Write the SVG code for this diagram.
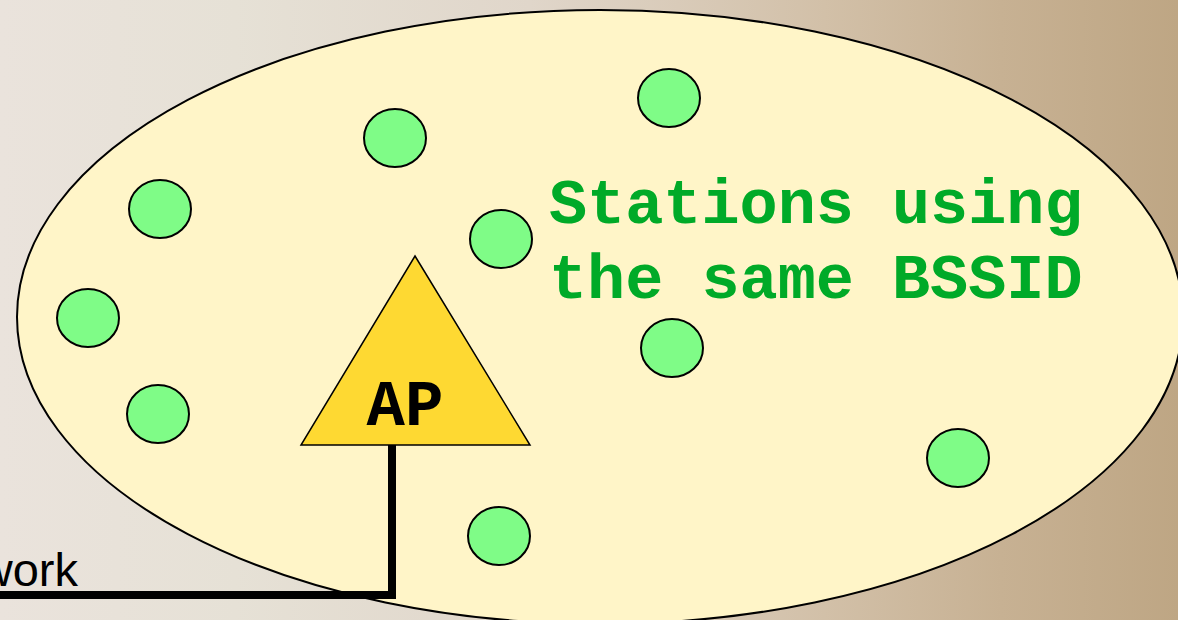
<svg xmlns="http://www.w3.org/2000/svg" width="1178" height="620" viewBox="0 0 1178 620">
  <defs>
    <linearGradient id="bg" x1="0" y1="0" x2="1" y2="0">
      <stop offset="0" stop-color="#EAE3DC"/>
      <stop offset="0.2" stop-color="#E6E1D6"/>
      <stop offset="0.45" stop-color="#E0D6CA"/>
      <stop offset="0.7" stop-color="#D2C0A8"/>
      <stop offset="0.85" stop-color="#C7B193"/>
      <stop offset="1" stop-color="#BEA684"/>
    </linearGradient>
  </defs>
  <style>
    .station { fill: #7FFC87; stroke: #000; stroke-width: 2; }
    .bss { fill: #FFF5C8; stroke: #000; stroke-width: 2; }
    .ap { fill: #FED932; stroke: #000; stroke-width: 1.5; stroke-linejoin: miter; }
    .aplabel { font-family: "Liberation Mono", "Courier New", monospace; font-weight: bold; font-size: 64px; fill: #000; }
    .note { font-family: "Liberation Mono", "Courier New", monospace; font-weight: bold; font-size: 63.5px; fill: #00AA28; }
    .net { font-family: "Liberation Sans", Arial, sans-serif; font-size: 47px; fill: #000; }
    .wire { fill: none; stroke: #000; stroke-width: 8; stroke-linejoin: miter; }
  </style>
  <rect x="0" y="0" width="1178" height="620" fill="url(#bg)"/>
  <g id="bss">
    <ellipse class="bss" cx="600" cy="317" rx="583" ry="307"/>
  </g>
  <g id="connectors">
    <path class="wire" d="M392,445 L392,595 L-10,595"/>
  </g>
  <g id="network-label">
    <text class="net" x="78" y="586" text-anchor="end">work</text>
  </g>
  <g id="ap">
    <polygon class="ap" points="415,256 530,445 301,445"/>
    <text class="aplabel" x="405" y="425" text-anchor="middle">AP</text>
  </g>
  <g id="stations">
    <ellipse id="sta1" class="station" cx="160" cy="209" rx="31" ry="29"/>
    <ellipse id="sta2" class="station" cx="88" cy="318" rx="31" ry="29"/>
    <ellipse id="sta3" class="station" cx="158" cy="414" rx="31" ry="29"/>
    <ellipse id="sta4" class="station" cx="395" cy="138" rx="31" ry="29"/>
    <ellipse id="sta5" class="station" cx="669" cy="98" rx="31" ry="29"/>
    <ellipse id="sta6" class="station" cx="501" cy="239" rx="31" ry="29"/>
    <ellipse id="sta7" class="station" cx="672" cy="348" rx="31" ry="29"/>
    <ellipse id="sta8" class="station" cx="958" cy="458" rx="31" ry="29"/>
    <ellipse id="sta9" class="station" cx="499" cy="536" rx="31" ry="29"/>
  </g>
  <g id="note">
    <text class="note" x="549" y="223">Stations using</text>
    <text class="note" x="549" y="298">the same BSSID</text>
  </g>
</svg>
